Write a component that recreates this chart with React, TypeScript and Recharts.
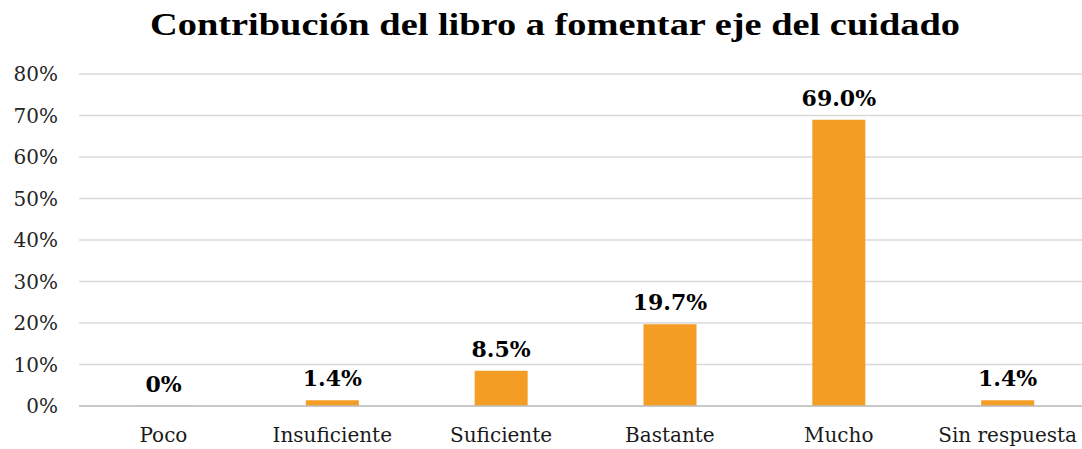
import { Bar, BarChart, CartesianGrid, LabelList, XAxis, YAxis } from 'recharts';

const categories = ['Poco', 'Insuficiente', 'Suficiente', 'Bastante', 'Mucho', 'Sin respuesta'];
const percents = [0, 1.4, 8.5, 19.7, 69.0, 1.4];
const yTicks = [0, 10, 20, 30, 40, 50, 60, 70, 80];
const TITLE = 'Contribución del libro a fomentar eje del cuidado';

const data = categories.map((name, i) => ({ name, value: percents[i] }));

const FONT = '"DejaVu Serif", Georgia, serif';

export default function App() {
  return (
    <div style={{ position: 'absolute', left: 0, top: 0, width: 1082, height: 449, overflow: 'hidden', background: '#fff' }}>
      <svg width={1082} height={60} style={{ position: 'absolute', left: 0, top: 0 }}>
        <text x={555} y={35} textAnchor="middle" fontFamily='"Liberation Serif", serif' fontWeight="bold"
          fontSize={32} fill="#000" textLength={810} lengthAdjust="spacingAndGlyphs">{TITLE}</text>
      </svg>
      <div style={{ position: 'absolute', left: 0, top: 0 }}>
        <BarChart width={1100} height={449} data={data} margin={{ top: 74, right: 8, left: 0, bottom: 3 }}>
          <CartesianGrid vertical={false} stroke="#d9d9d9" strokeWidth={1.5} />
          <YAxis domain={[0, 80]} ticks={yTicks} interval={0} width={79} tickLine={false} axisLine={false}
            tickSize={0} tickMargin={21} tickFormatter={(v: number) => `${v}%`}
            tick={{ fill: '#262626', fontSize: 20, fontFamily: FONT }} />
          <XAxis dataKey="name" interval={0} tickLine={false} tickSize={0} tickMargin={22} height={40}
            axisLine={{ stroke: '#bfbfbf', strokeWidth: 1.5 }}
            tick={{ fill: '#1a1a1a', fontSize: 20, fontFamily: FONT }} />
          <Bar dataKey="value" fill="#F49D24" barSize={53} minPointSize={0.3} isAnimationActive={false}>
            <LabelList dataKey="value" position="top" offset={14}
              formatter={(v: any) => (Number(v) === 0 ? '0%' : `${Number(v).toFixed(1)}%`)}
              style={{ fill: '#000', fontSize: 22, fontWeight: 'bold', fontFamily: FONT }} />
          </Bar>
        </BarChart>
      </div>
    </div>
  );
}
